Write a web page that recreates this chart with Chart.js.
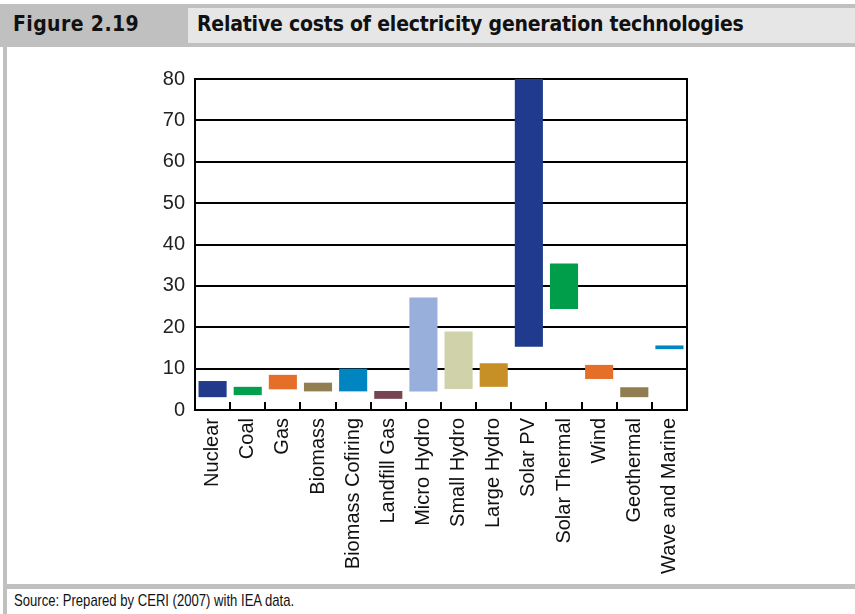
<!DOCTYPE html>
<html>
<head>
<meta charset="utf-8">
<script src="https://cdn.jsdelivr.net/npm/chart.js@4.4.1/dist/chart.umd.min.js"></script>
<style>
  body { margin: 0; background: #fff; width: 855px; height: 614px; position: relative; overflow: hidden; }
  .band { position: absolute; background: #c0c0c0; }
  #fig_head { left: 0; top: 4px; width: 855px; height: 43px; }
  #title_box { position: absolute; left: 188px; top: 8px; width: 667px; height: 35px; background: #e6e6e6; }
  #fig_no, #fig_title { position: absolute; top: 12px; font: bold 21px "DejaVu Sans Condensed", "Liberation Sans", sans-serif; color: #111; white-space: nowrap; }
  #fig_no { left: 13px; letter-spacing: 0.4px; }
  #fig_title { left: 197px; letter-spacing: -0.2px; }
  #left_rule { left: 3px; top: 47px; width: 4px; height: 567px; }
  #bottom_rule { left: 3px; top: 584px; width: 852px; height: 5px; }
  #source { position: absolute; left: 14px; top: 591px; font: 17px "Liberation Sans", sans-serif; color: #111; white-space: nowrap;
            transform: scaleX(0.77); transform-origin: left top; }
  #chart_wrap { position: absolute; left: 7px; top: 47px; width: 848px; height: 537px; }
</style>
</head>
<body>
<div class="band" id="fig_head"></div>
<div id="title_box"></div>
<div id="fig_no">Figure 2.19</div>
<div id="fig_title">Relative costs of electricity generation technologies</div>
<div class="band" id="left_rule"></div>
<div class="band" id="bottom_rule"></div>
<div id="chart_wrap"><canvas id="cost_chart"></canvas></div>
<div id="source">Source: Prepared by CERI (2007) with IEA data.</div>

<script>
const technologies = ['Nuclear', 'Coal', 'Gas', 'Biomass', 'Biomass Cofiring', 'Landfill Gas', 'Micro Hydro',
    'Small Hydro', 'Large Hydro', 'Solar PV', 'Solar Thermal', 'Wind', 'Geothermal', 'Wave and Marine'];
const costLow  = [3.1, 3.6, 5.0, 4.5, 4.5, 2.7, 4.5, 5.1, 5.6, 15.3, 24.4, 7.5, 3.1, 14.7];
const costHigh = [7.0, 5.6, 8.5, 6.6, 10.0, 4.6, 27.2, 19.0, 11.3, 80.0, 35.4, 10.9, 5.5, 15.6];
const barColors = ['#213a8c', '#00a04c', '#e56f29', '#917f52', '#0085c1', '#764551', '#98afdb',
    '#d0d3a9', '#c69027', '#203a8d', '#009e4b', '#e56e28', '#917d51', '#0085c4'];
const yTicks = [0, 10, 20, 30, 40, 50, 60, 70, 80];

// right edge of the frame and the short inward ticks between categories
const framePlugin = {
    id: 'frame',
    afterDraw(chart) {
        const { ctx, chartArea, scales } = chart;
        ctx.save();
        ctx.strokeStyle = '#000';
        ctx.lineWidth = 2;
        ctx.beginPath();
        ctx.moveTo(chartArea.right, chartArea.top - 1);
        ctx.lineTo(chartArea.right, chartArea.bottom);
        for (let i = 1; i < technologies.length; i++) {
            const x = Math.round(scales.x.getPixelForValue(i - 0.5));
            ctx.moveTo(x, chartArea.bottom);
            ctx.lineTo(x, chartArea.bottom - 8);
        }
        ctx.stroke();
        ctx.restore();
    }
};

const ctx = document.getElementById('cost_chart').getContext('2d');
const costChart = new Chart(ctx, {
    type: 'bar',
    data: {
        labels: technologies,
        datasets: [{
            data: technologies.map((_, i) => [costLow[i], costHigh[i]]),
            backgroundColor: barColors,
            borderWidth: 0,
            categoryPercentage: 1,
            barPercentage: 0.8
        }]
    },
    options: {
        responsive: true,
        maintainAspectRatio: false,
        animation: false,
        layout: { padding: { top: 32, right: 168, left: 0, bottom: 0 } },
        plugins: { legend: { display: false }, tooltip: { enabled: false } },
        scales: {
            x: {
                grid: { display: false, drawTicks: false },
                border: { color: '#000', width: 2 },
                ticks: {
                    color: '#111',
                    font: { family: 'Liberation Sans', size: 20 },
                    minRotation: 90,
                    maxRotation: 90,
                    autoSkip: false,
                    padding: 8
                },
                afterFit(scale) { scale.height = 174; }
            },
            y: {
                min: 0,
                max: 80,
                afterBuildTicks(scale) { scale.ticks = yTicks.map(v => ({ value: v })); },
                grid: { color: '#000', lineWidth: 2, drawTicks: false },
                border: { color: '#000', width: 2 },
                ticks: {
                    color: '#222',
                    font: { family: 'Liberation Sans', size: 20 },
                    padding: 10
                },
                afterFit(scale) { scale.width = 188; }
            }
        }
    },
    plugins: [framePlugin]
});
</script>
</body>
</html>
